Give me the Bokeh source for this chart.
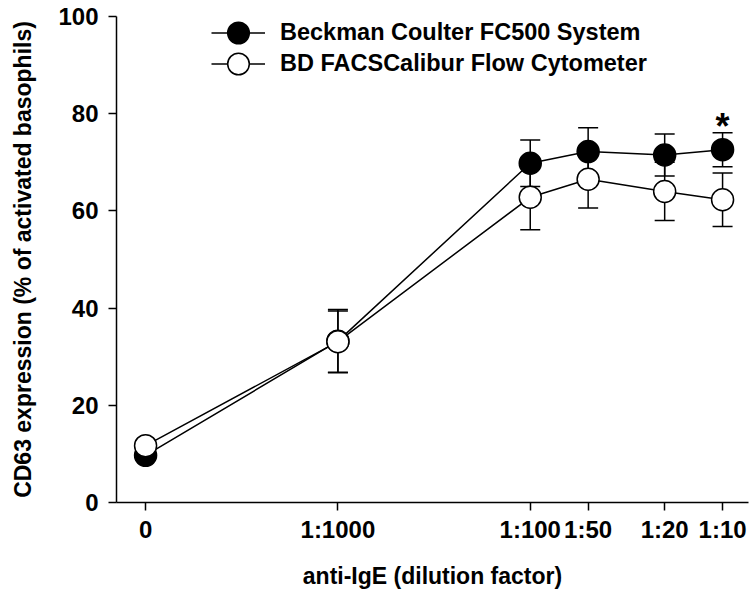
from bokeh.plotting import figure
from bokeh.models import ColumnDataSource, Whisker, TeeHead, FixedTicker, Legend, LegendItem, Range1d
from bokeh.core.properties import value
from bokeh.embed import file_html
from bokeh.resources import INLINE

# ---- data ----
dilution_labels = ["0", "1:1000", "1:100", "1:50", "1:20", "1:10"]
# dilution fraction; the "0" control is drawn one decade below 1:1000
dilution = [1e-4, 1e-3, 1e-2, 1 / 50, 1 / 20, 1 / 10]

beckman_name = "Beckman Coulter FC500 System"
beckman_mean = [9.7, 33.2, 69.8, 72.2, 71.5, 72.6]
beckman_sem = [1.0, 6.5, 4.8, 4.9, 4.3, 3.5]

bd_name = "BD FACSCalibur Flow Cytometer"
bd_mean = [11.7, 33.1, 62.8, 66.5, 64.0, 62.3]
bd_sem = [1.0, 6.3, 6.7, 5.9, 6.0, 5.5]

star_text = ["*"]
star_x = [dilution[-1]]

x_title = "anti-IgE (dilution factor)"
y_title = "CD63 expression (% of activated basophils)"
y_ticks = [0, 20, 40, 60, 80, 100]

FONT = "Liberation Sans"
FS = "23px"
TICK_FS = "24px"

p = figure(width=749, height=594, x_axis_type="log",
           x_range=Range1d(7.06e-5, 0.1364), y_range=Range1d(0, 100),
           output_backend="svg", toolbar_location=None,
           min_border_left=116, min_border_right=1, min_border_top=16, min_border_bottom=92)
p.outline_line_color = None
p.xgrid.grid_line_color = None
p.ygrid.grid_line_color = None
p.background_fill_color = "white"

src_b = ColumnDataSource(dict(x=dilution, y=beckman_mean,
                              upper=[m + s for m, s in zip(beckman_mean, beckman_sem)],
                              lower=[m - s for m, s in zip(beckman_mean, beckman_sem)]))
src_d = ColumnDataSource(dict(x=dilution, y=bd_mean,
                              upper=[m + s for m, s in zip(bd_mean, bd_sem)],
                              lower=[m - s for m, s in zip(bd_mean, bd_sem)]))

for src in (src_b, src_d):
    w = Whisker(base="x", upper="upper", lower="lower", source=src, dimension="height",
                line_color="black", line_width=1.5,
                upper_head=TeeHead(size=20, line_color="black", line_width=1.5),
                lower_head=TeeHead(size=20, line_color="black", line_width=1.5))
    p.add_layout(w)

lb = p.line("x", "y", source=src_b, line_color="black", line_width=1.5)
ld = p.line("x", "y", source=src_d, line_color="black", line_width=1.5)
sb = p.scatter("x", "y", source=src_b, marker="circle", size=22,
               fill_color="black", line_color="black", line_width=1.5)
sd = p.scatter("x", "y", source=src_d, marker="circle", size=22,
               fill_color="white", line_color="black", line_width=1.5)

p.text(x=star_x, y=[beckman_mean[-1] + beckman_sem[-1]], text=star_text,
       text_font=value(FONT), text_font_style="bold", text_font_size="36px",
       text_align="center", text_baseline="alphabetic", y_offset=-6, text_color="black")

legend_style = dict(glyph_width=54, glyph_height=55, padding=0, margin=0, label_standoff=15,
                    label_text_font=FONT, label_text_font_style="bold", label_text_font_size="23.5px",
                    label_text_color="black", border_line_alpha=0, background_fill_alpha=0)
leg1 = Legend(items=[LegendItem(label=beckman_name, renderers=[lb, sb])],
              location=(95, 442), **legend_style)
leg2 = Legend(items=[LegendItem(label=bd_name, renderers=[ld, sd])],
              location=(95, 411), **legend_style)
p.add_layout(leg1, "center")
p.add_layout(leg2, "center")

# axes
p.xaxis.ticker = FixedTicker(ticks=dilution, minor_ticks=[])
p.xaxis.major_label_overrides = {d: lab for d, lab in zip(dilution, dilution_labels)}
p.yaxis.ticker = FixedTicker(ticks=y_ticks, minor_ticks=[])
p.xaxis.axis_label = x_title
p.yaxis.axis_label = y_title
for ax in (p.xaxis, p.yaxis):
    ax.axis_line_color = "black"
    ax.axis_line_width = 1.5
    ax.major_tick_line_color = "black"
    ax.major_tick_line_width = 1.5
    ax.major_tick_out = 8
    ax.major_tick_in = 0
    ax.minor_tick_line_color = None
    ax.major_label_text_font = FONT
    ax.major_label_text_font_style = "bold"
    ax.major_label_text_font_size = TICK_FS
    ax.major_label_text_color = "black"
    ax.axis_label_text_font = FONT
    ax.axis_label_text_font_style = "bold"
    ax.axis_label_text_font_size = FS
    ax.axis_label_text_color = "black"
p.xaxis.major_label_standoff = 5
p.xaxis.axis_label_standoff = 17
p.yaxis.major_label_standoff = 10
p.yaxis.axis_label_standoff = 19

open("out.html", "w").write(file_html(p, INLINE))
